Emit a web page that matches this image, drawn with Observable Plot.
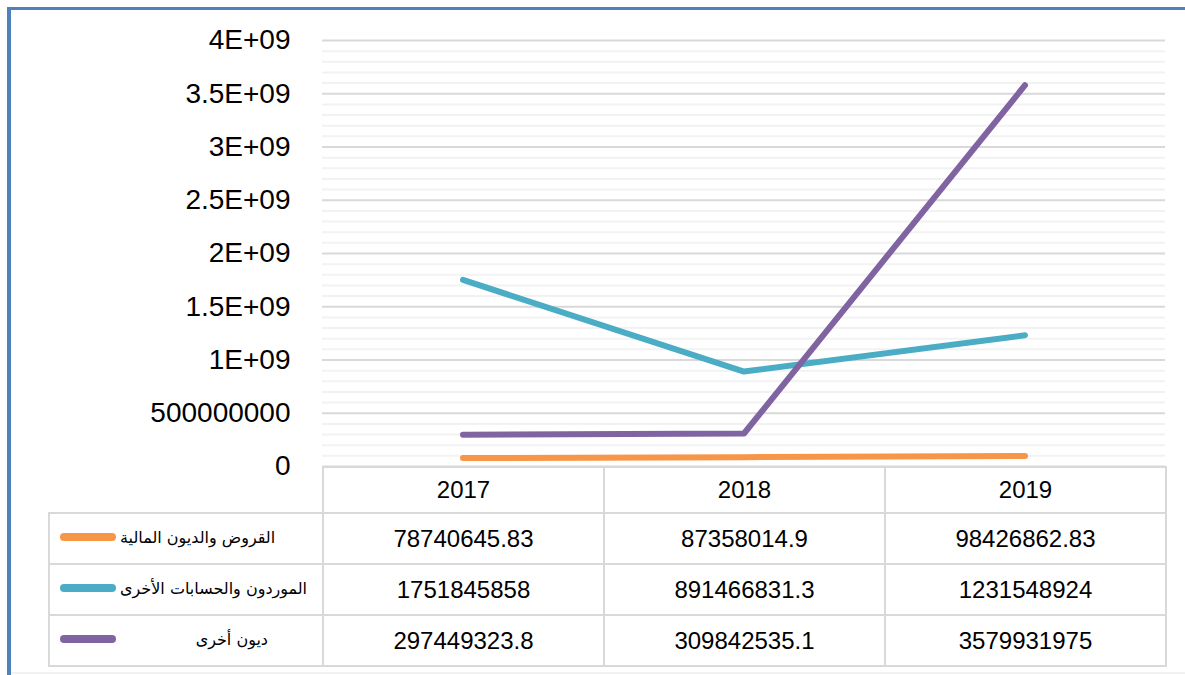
<!DOCTYPE html>
<html>
<head>
<meta charset="utf-8">
<script src="https://cdn.jsdelivr.net/npm/d3@7"></script>
<script src="https://cdn.jsdelivr.net/npm/@observablehq/plot@0.6"></script>
<style>
  html, body { margin: 0; padding: 0; background: #fff; }
  #wrap { position: relative; width: 1185px; height: 675px; overflow: hidden; background: #fff; }
  #frameLeft { position: absolute; left: 7px; top: 7px; width: 4px; height: 668px; background: #4F81BD; }
  #frameTop { position: absolute; left: 7px; top: 7px; width: 1178px; height: 3px; background: #4F81BD; }
  #frameBottom { position: absolute; left: 11px; top: 672px; width: 1174px; height: 2px; background: #F2F2F2; }
  #chart { position: absolute; left: 0; top: 0; }
  #tbl { position: absolute; left: 48px; top: 466px; border-collapse: collapse; table-layout: fixed;
         font-family: "Liberation Sans", Arial, sans-serif; font-size: 24px; color: #000; background: transparent; }
  #tbl td { border: 2px solid #D9D9D9; text-align: center; padding: 0; }
  #tbl td.blank { border: none; }
  #tbl td.leg { position: relative; }
  .sw { position: absolute; left: 10px; top: 50%; width: 56px; height: 8px; margin-top: -6px; border-radius: 4px; }
  .lt { position: absolute; top: 50%; transform: translateY(-60%); font-family: "DejaVu Sans", "Noto Sans", sans-serif;
        font-size: 16px; direction: rtl; white-space: nowrap; }
</style>
</head>
<body>
<div id="wrap">
  <div id="frameLeft"></div>
  <div id="frameTop"></div>
  <div id="frameBottom"></div>
  <div id="chart"></div>
</div>
<script>
// ---- data ----
const years = ["2017", "2018", "2019"];
const seriesNames = ["القروض والديون المالية", "الموردون والحسابات الأخرى", "ديون أخرى"];
const seriesColors = ["#F79646", "#4BACC6", "#8064A2"];
const loans = [78740645.83, 87358014.9, 98426862.83];
const suppliers = [1751845858, 891466831.3, 1231548924];
const otherDebts = [297449323.8, 309842535.1, 3579931975];
const majorTicks = [0, 5e8, 1e9, 1.5e9, 2e9, 2.5e9, 3e9, 3.5e9, 4e9];
const tickLabels = ["0", "500000000", "1E+09", "1.5E+09", "2E+09", "2.5E+09", "3E+09", "3.5E+09", "4E+09"];
const minorTicks = d3.range(0, 4e9 + 1, 1e8).filter(v => !majorTicks.includes(v));

const seriesValues = [loans, suppliers, otherDebts];
const rows = [];
seriesNames.forEach((s, i) => years.forEach((y, j) => rows.push({series: s, year: y, value: seriesValues[i][j]})));

const chart = Plot.plot({
  width: 1185,
  height: 490,
  marginLeft: 322,
  marginRight: 20,
  marginTop: 40,
  marginBottom: 24,
  style: {fontFamily: "'Liberation Sans', Arial, sans-serif", background: "transparent"},
  x: {type: "band", domain: years, padding: 0, axis: null},
  y: {domain: [0, 4e9]},
  color: {domain: seriesNames, range: seriesColors},
  marks: [
    Plot.ruleY(minorTicks, {stroke: "#F2F2F2", strokeWidth: 2}),
    Plot.ruleY(majorTicks, {stroke: "#D9D9D9", strokeWidth: 2}),
    Plot.axisY({ticks: majorTicks, tickFormat: d => tickLabels[majorTicks.indexOf(d)], tickSize: 0, tickPadding: 32,
                fontSize: 28, fill: "#000", label: null}),
    Plot.line(rows, {x: "year", y: "value", z: "series", stroke: "series", strokeWidth: 6,
                     strokeLinecap: "round", strokeLinejoin: "round"})
  ]
});
document.getElementById("chart").appendChild(chart);

// ---- data table below the chart ----
const tbl = document.createElement("table");
tbl.id = "tbl";
const colg = document.createElement("colgroup");
[274, 281, 281, 281].forEach(w => { const c = document.createElement("col"); c.style.width = w + "px"; colg.appendChild(c); });
tbl.appendChild(colg);
const hr = document.createElement("tr");
hr.style.height = "46px";
const blank = document.createElement("td"); blank.className = "blank"; hr.appendChild(blank);
years.forEach(y => { const td = document.createElement("td"); td.textContent = y; hr.appendChild(td); });
tbl.appendChild(hr);
const textPos = [{left: "70px"}, {left: "70px"}, {right: "54px"}];
seriesNames.forEach((s, i) => {
  const tr = document.createElement("tr");
  tr.style.height = "51px";
  const leg = document.createElement("td"); leg.className = "leg";
  const sw = document.createElement("div"); sw.className = "sw"; sw.style.background = seriesColors[i];
  const lt = document.createElement("div"); lt.className = "lt"; lt.textContent = s;
  Object.assign(lt.style, textPos[i]);
  leg.appendChild(sw); leg.appendChild(lt);
  tr.appendChild(leg);
  seriesValues[i].forEach(v => { const td = document.createElement("td"); td.textContent = String(v); tr.appendChild(td); });
  tbl.appendChild(tr);
});
document.getElementById("wrap").appendChild(tbl);
</script>
</body>
</html>
